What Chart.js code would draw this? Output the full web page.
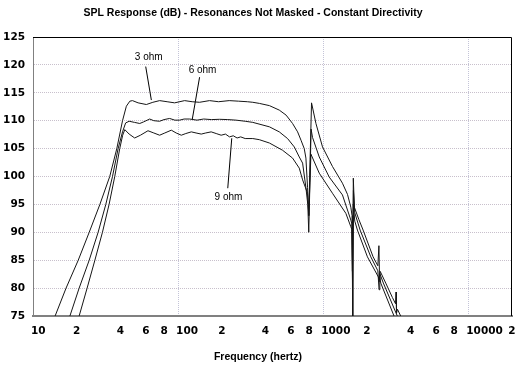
<!DOCTYPE html>
<html>
<head>
<meta charset="utf-8">
<script src="https://cdn.jsdelivr.net/npm/chart.js@4"></script>
<style>
html,body{margin:0;padding:0;background:#fff;}
#wrap{width:520px;height:367px;}
</style>
</head>
<body>
<div id="wrap"><canvas id="c" width="520" height="367"></canvas></div>
<script>
// ---- Data ----
const chartTitle = 'SPL Response (dB) - Resonances Not Masked - Constant Directivity';
const xAxisTitle = 'Frequency (hertz)';

const xTickValues = [10,20,40,60,80,100,200,400,600,800,1000,2000,4000,6000,8000,10000,20000];
const xTickLabels = ['10','2','4','6','8','100','2','4','6','8','1000','2','4','6','8','10000','2'];

// 3 ohm
const freq3 = [13.2,14.2,16.9,20.5,24.4,28.9,33.8,37.8,41.4,44.0,46.5,48.5,53,60.4,67,74.6,84,94.6,110.9,125,140.5,164.6,190,225,260,300,327,363,426,498,555,615,666,703,740,760,780,795,812,831,891,989,1158,1357,1470,1550,1580,1598,1612,1640,1760,1883,2207,2380,2420,2445,2470,2697,3000,3150,3175,3200,3250,3420,3650];
const spl3  = [72,75,80,85,90,95,100,105,110,112.6,113.5,113.6,113.2,112.9,113.3,113.6,113.4,113.2,113.6,113.4,113.3,113.6,113.4,113.6,113.5,113.4,113.3,113.1,112.7,111.9,111.0,109.5,108.0,106.5,105.0,103.3,98.0,93.0,103.0,113.2,109.5,105.3,101.8,98.8,96.8,94.5,93.0,72,99.7,94.5,92.3,90.4,85.6,84.0,87.6,81.5,83.0,80.9,78.3,77.2,79.3,75.5,76.2,75,73];

// 6 ohm
const freq6 = [16.5,17.96,20.8,24.4,28.1,31.75,35.3,38.6,41.4,43.5,46,50,54.4,58,63.7,68,74.6,80,87.4,95,102.4,110,120,135,150,170,192.8,220,251,290,327,426,498,568,632,684,721,760,783,795,810,825,844,939,1100,1357,1550,1575,1592,1615,1650,1796,2128,2380,2426,2455,2597,3241,3450];
const spl6  = [72,75,80,85,90,95,100,105,108,109.6,109.9,109.7,109.5,109.8,110.3,110.0,109.9,110.2,110.4,110.1,110.1,110.3,110.3,110.1,110.3,110.2,110.25,110.2,110.1,109.9,109.7,108.9,108.0,106.8,105.3,103.5,102.4,98.0,95.0,90.0,99.0,108.5,107.0,103.5,99.9,96.7,92.2,91.5,81,97.5,93.5,90.4,85.6,83.1,79.7,82.6,80.9,75,72.5];

// 9 ohm
const freq9 = [19.5,20.8,23.6,26.7,30.1,33.45,36.6,39.6,41.5,42.9,46,50.2,55,62,68,74.6,81,89.8,97,105.2,113,123.3,133,144.4,155,169,183,198,212,226,240,255,270,290,327,363,426,525,615,684,721,780,795,810,823,939,1158,1432,1550,1575,1590,1612,1650,1721,2017,2400,2426,2450,2493,3076,3300];
const spl9  = [72.5,75,80,85,90,95,100,105,107.4,108.4,107.6,106.9,107.4,108.2,107.8,107.4,107.8,108.3,107.8,107.4,107.7,108.0,107.8,107.6,107.8,108.0,107.7,107.4,107.6,107.1,107.3,106.9,107.1,106.8,106.8,106.6,106.0,104.7,103.3,101.5,99.4,97.0,93.0,99.0,104.0,100.6,97.0,93.4,91.0,90.5,83,95.0,92.0,90.4,85.6,82.0,81.2,82.0,80.9,75,72.5];

// curve labels and their leader lines
const labelTexts = ['3 ohm','6 ohm','9 ohm'];
const labelFreq  = [62.7,147.4,222.4];
const labelDb    = [121.4,119.1,96.3];
const leaderFreqStart = [59.8,140.6,234.3];
const leaderDbStart   = [119.7,117.8,106.85];
const leaderFreqEnd   = [65.4,125.2,219.9];
const leaderDbEnd     = [113.7,110.25,97.9];

// ---- Build datasets ----
const toPts = (fs, ys) => fs.map((f, i) => ({x: f, y: ys[i]}));
const curveStyle = {borderColor:'#151515', borderWidth:1, pointRadius:0, tension:0, fill:false};
const datasets = [
  Object.assign({label:'3 ohm', data: toPts(freq3, spl3)}, curveStyle),
  Object.assign({label:'6 ohm', data: toPts(freq6, spl6)}, curveStyle),
  Object.assign({label:'9 ohm', data: toPts(freq9, spl9)}, curveStyle)
];
labelTexts.forEach((t, i) => {
  datasets.push(Object.assign({label: t + ' leader', data: [
    {x: leaderFreqStart[i], y: leaderDbStart[i]},
    {x: leaderFreqEnd[i], y: leaderDbEnd[i]}
  ]}, curveStyle, {borderColor:'#000'}));
});

const tickFontCss = 'bold 10.5px "DejaVu Sans", sans-serif';

const decorPlugin = {
  id: 'decor',
  afterDraw(chart) {
    const ctx = chart.ctx, a = chart.chartArea;
    const xs = chart.scales.x, ys = chart.scales.y;
    ctx.save();
    // top & right frame
    ctx.strokeStyle = '#000';
    ctx.lineWidth = 1;
    ctx.beginPath();
    ctx.moveTo(a.left, a.top + 0.5);
    ctx.lineTo(a.right - 0.5, a.top + 0.5);
    ctx.lineTo(a.right - 0.5, a.bottom);
    ctx.stroke();
    ctx.fillStyle = '#000';
    ctx.textBaseline = 'middle';
    // x tick labels: decade labels start at their tick, digit labels centred
    ctx.font = tickFontCss;
    xTickValues.forEach((v, i) => {
      const px = xs.getPixelForValue(v);
      const lab = xTickLabels[i];
      if (lab.length > 1) { ctx.textAlign = 'left'; ctx.fillText(lab, px - 2, a.bottom + 15); }
      else { ctx.textAlign = 'center'; ctx.fillText(lab, px, a.bottom + 15); }
    });
    // titles
    ctx.textAlign = 'center';
    ctx.font = 'bold 10.5px "Liberation Sans", Arial, sans-serif';
    ctx.fillText(chartTitle, 253, 13);
    ctx.fillText(xAxisTitle, 258, 357);
    // curve labels
    ctx.font = '10px "Liberation Sans", Arial, sans-serif';
    labelTexts.forEach((t, i) => {
      ctx.fillText(t, xs.getPixelForValue(labelFreq[i]), ys.getPixelForValue(labelDb[i]));
    });
    ctx.restore();
  }
};

const tickFont = {family: '"DejaVu Sans", sans-serif', weight: 'bold', size: 10.5};

new Chart(document.getElementById('c'), {
  type: 'line',
  data: {datasets},
  options: {
    responsive: false,
    animation: false,
    events: [],
    layout: {padding: {top: 37, right: 8, left: 0, bottom: 0}},
    plugins: {legend: {display: false}, tooltip: {enabled: false}, title: {display: false}},
    scales: {
      x: {
        type: 'logarithmic',
        min: 10, max: 20000,
        afterBuildTicks: s => { s.ticks = xTickValues.map(v => ({value: v})); },
        afterFit: s => { s.height = 51; },
        ticks: {display: false, autoSkip: false, maxRotation: 0, minRotation: 0},
        grid: {
          drawTicks: false, lineWidth: 1,
          color: c => ([100, 1000, 10000].includes(c.tick && c.tick.value) ? '#c4c4d8' : 'rgba(0,0,0,0)')
        },
        border: {display: true, color: '#808080', width: 2, dash: [1, 1]}
      },
      y: {
        type: 'linear',
        min: 75, max: 125,
        afterFit: s => { s.width = 33; },
        ticks: {stepSize: 5, padding: 8, color: '#000', font: tickFont},
        grid: {drawTicks: false, lineWidth: 1, color: '#c8c0cc'},
        border: {display: true, color: '#808080', width: 1, dash: [1, 1]}
      }
    }
  },
  plugins: [decorPlugin]
});
</script>
</body>
</html>
